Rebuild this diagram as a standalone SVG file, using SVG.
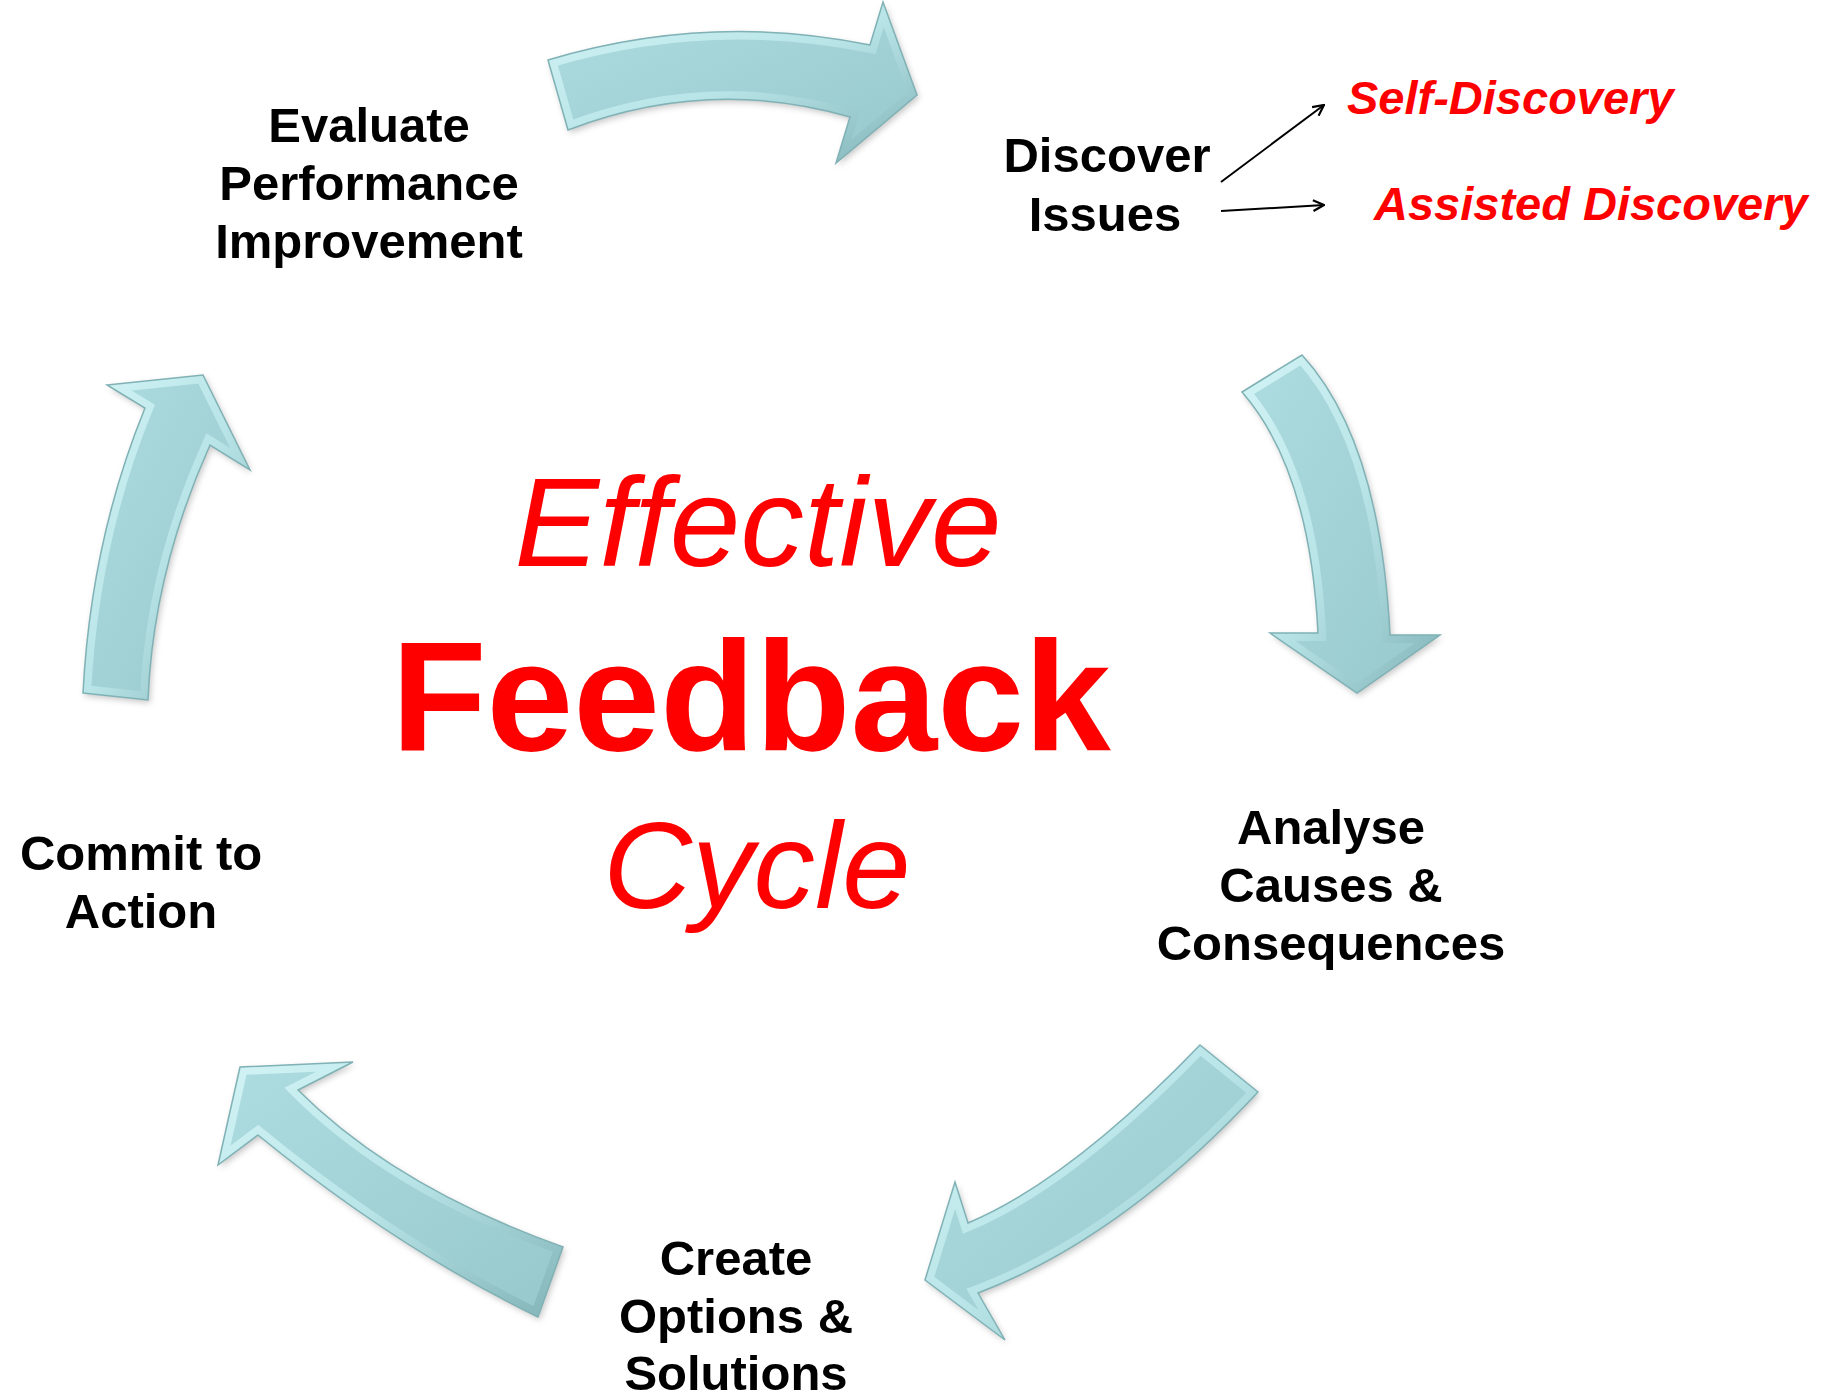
<svg xmlns="http://www.w3.org/2000/svg" width="1837" height="1397" viewBox="0 0 1837 1397">
  <style>
    .lbl { font-family: "Liberation Sans", Arial, sans-serif; font-weight: bold; font-size: 49px; fill: #000; text-anchor: middle; }
    .red { font-family: "Liberation Sans", Arial, sans-serif; font-weight: bold; font-style: italic; font-size: 47px; fill: #ff0000; }
    .title { font-family: "Liberation Sans", Arial, sans-serif; fill: #ff0000; text-anchor: middle; }
    .body { fill: url(#teal); filter: url(#shadow); }
    .rim { fill: none; stroke: url(#rimgrad); stroke-width: 16; stroke-linejoin: miter; }
    .edge { fill: none; stroke: #7FB1B5; stroke-width: 1.5; }
    .thin { stroke: #000; stroke-width: 2; fill: none; marker-end: url(#open); }
  </style>
  <defs>
    <linearGradient id="teal" x1="0" y1="0" x2="1" y2="1">
      <stop offset="0" stop-color="#AEDDE1"/>
      <stop offset="1" stop-color="#97C8CC"/>
    </linearGradient>
    <linearGradient id="rimgrad" x1="0" y1="0" x2="1" y2="1">
      <stop offset="0" stop-color="#D2F3F5"/>
      <stop offset="0.5" stop-color="#B9E5E8"/>
      <stop offset="1" stop-color="#82B4B8"/>
    </linearGradient>
    <filter id="shadow" x="-15%" y="-15%" width="130%" height="130%">
      <feGaussianBlur in="SourceAlpha" stdDeviation="3" result="sh"/>
      <feOffset in="sh" dx="2" dy="3" result="sho"/>
      <feFlood flood-color="#000" flood-opacity="0.22"/>
      <feComposite in2="sho" operator="in" result="shadow"/>
      <feMerge><feMergeNode in="shadow"/><feMergeNode in="SourceGraphic"/></feMerge>
    </filter>
    <marker id="open" viewBox="0 0 12 12" refX="11" refY="6" markerWidth="13" markerHeight="13" markerUnits="userSpaceOnUse" orient="auto">
      <path d="M1,1 L11,6 L1,11" fill="none" stroke="#000" stroke-width="2"/>
    </marker>
    <path id="p-top" d="M548,60 Q709,12 870,45 L883,2 L917,95 L836,163 L850,117 Q709,76 568,130 Z"/>
    <path id="p-right" d="M1242,392 L1302,355 Q1380,440 1390,635 L1440,635 L1357,693 L1270,633 L1318,633 Q1310,470 1242,392 Z"/>
    <path id="p-br" d="M1200,1045 L1258,1092 Q1122,1238 978,1293 L1005,1340 L925,1280 L955,1182 L968,1223 Q1070,1180 1200,1045 Z"/>
    <path id="p-bl" d="M563,1247 L538,1317 Q396,1248 258,1135 L218,1165 L240,1067 L353,1062 L298,1090 Q395,1187 563,1247 Z"/>
    <path id="p-left" d="M83,693 L148,700 Q153,572 210,445 L250,470 L203,375 L107,385 L145,408 Q91,540 83,693 Z"/>
    <clipPath id="c-top"><use href="#p-top"/></clipPath>
    <clipPath id="c-right"><use href="#p-right"/></clipPath>
    <clipPath id="c-br"><use href="#p-br"/></clipPath>
    <clipPath id="c-bl"><use href="#p-bl"/></clipPath>
    <clipPath id="c-left"><use href="#p-left"/></clipPath>
  </defs>

  <g id="connectors">
    <g id="arrow-top">
      <use href="#p-top" class="body"/>
      <use href="#p-top" class="rim" clip-path="url(#c-top)"/>
      <use href="#p-top" class="edge"/>
    </g>
    <g id="arrow-right">
      <use href="#p-right" class="body"/>
      <use href="#p-right" class="rim" clip-path="url(#c-right)"/>
      <use href="#p-right" class="edge"/>
    </g>
    <g id="arrow-bottom-right">
      <use href="#p-br" class="body"/>
      <use href="#p-br" class="rim" clip-path="url(#c-br)"/>
      <use href="#p-br" class="edge"/>
    </g>
    <g id="arrow-bottom-left">
      <use href="#p-bl" class="body"/>
      <use href="#p-bl" class="rim" clip-path="url(#c-bl)"/>
      <use href="#p-bl" class="edge"/>
    </g>
    <g id="arrow-left">
      <use href="#p-left" class="body"/>
      <use href="#p-left" class="rim" clip-path="url(#c-left)"/>
      <use href="#p-left" class="edge"/>
    </g>
    <line class="thin" x1="1221" y1="182" x2="1324" y2="105"/>
    <line class="thin" x1="1221" y1="211" x2="1324" y2="205"/>
  </g>

  <g id="title">
    <text class="title" x="758" y="566" font-size="127" font-style="italic">Effective</text>
    <text class="title" x="751" y="750" font-size="156" font-weight="bold">Feedback</text>
    <text class="title" x="757" y="908" font-size="123" font-style="italic">Cycle</text>
  </g>

  <g id="node-evaluate">
    <text class="lbl" x="369" y="142">Evaluate</text>
    <text class="lbl" x="369" y="200">Performance</text>
    <text class="lbl" x="369" y="258">Improvement</text>
  </g>
  <g id="node-discover">
    <text class="lbl" x="1107" y="172">Discover</text>
    <text class="lbl" x="1105" y="231">Issues</text>
  </g>
  <g id="node-self-discovery">
    <text class="red" x="1347" y="114">Self-Discovery</text>
  </g>
  <g id="node-assisted-discovery">
    <text class="red" x="1374" y="220">Assisted Discovery</text>
  </g>
  <g id="node-analyse">
    <text class="lbl" x="1331" y="844">Analyse</text>
    <text class="lbl" x="1331" y="902">Causes &amp;</text>
    <text class="lbl" x="1331" y="960">Consequences</text>
  </g>
  <g id="node-create">
    <text class="lbl" x="736" y="1275">Create</text>
    <text class="lbl" x="736" y="1333">Options &amp;</text>
    <text class="lbl" x="736" y="1390">Solutions</text>
  </g>
  <g id="node-commit">
    <text class="lbl" x="141" y="870">Commit to</text>
    <text class="lbl" x="141" y="928">Action</text>
  </g>
</svg>
